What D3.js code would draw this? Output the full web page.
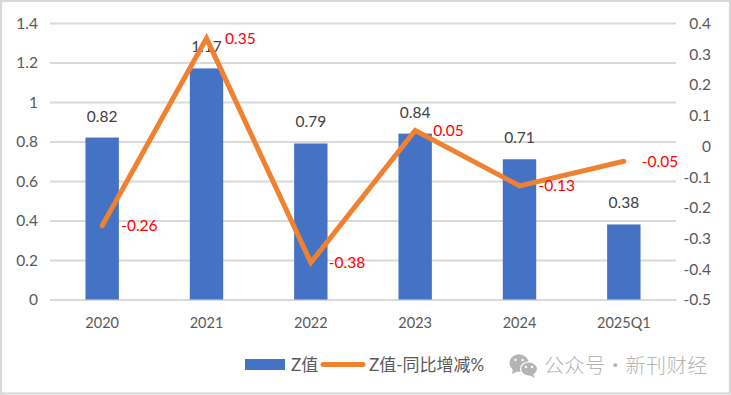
<!DOCTYPE html>
<html><head><meta charset="utf-8">
<script src="https://cdn.jsdelivr.net/npm/d3@7/dist/d3.min.js"></script>
<style>html,body{margin:0;padding:0;background:#fff}svg{display:block}text{font-family:Lato,"Noto Sans CJK SC",sans-serif}</style>
</head><body><svg id="c" width="731" height="395"></svg>
<script>
const categories=["2020","2021","2022","2023","2024","2025Q1"];
const zValues=[0.82,1.17,0.79,0.84,0.71,0.38];
const yoyValues=[-0.26,0.35,-0.38,0.05,-0.13,-0.05];
const leftTicks=[0,0.2,0.4,0.6,0.8,1,1.2,1.4];
const rightTicks=[-0.5,-0.4,-0.3,-0.2,-0.1,0,0.1,0.2,0.3,0.4];
const legendLabels=["Z值","Z值-同比增减%"];
const watermark="公众号 · 新刊财经";
const labelDx=[19,18.5,18,18,19,18];
const W=731,H=395,svg=d3.select("#c");
const m={l:50,r:676,t:23,b:299.5};
const fmtTick=d=>String(d);
const fmt2=d=>d.toFixed(2);
const x=d3.scaleBand().domain(categories).range([m.l,m.r]).paddingInner(0.68).paddingOuter(0.34);
const yL=d3.scaleLinear().domain([0,1.4]).range([m.b,m.t]);
const yR=d3.scaleLinear().domain([-0.5,0.4]).range([m.b,m.t]);
const cx=d=>x(d)+x.bandwidth()/2;
svg.append("rect").attr("x",1).attr("y",1).attr("width",W-2).attr("height",H-2.5).attr("fill","#fff").attr("stroke","#d9d9d9").attr("stroke-width",2.2);
const gl=svg.append("g").attr("transform",`translate(${m.l},0)`).call(d3.axisLeft(yL).tickValues(leftTicks).tickSize(-(m.r-m.l)).tickFormat(fmtTick));
gl.select(".domain").remove();
gl.selectAll("line").attr("stroke","#d9d9d9").attr("stroke-width",2);
gl.selectAll("text").attr("x",-12).attr("dy","0.35em").attr("fill","#595959").style("font-size","15.5px");
const gr=svg.append("g").attr("transform",`translate(${m.r},0)`).call(d3.axisRight(yR).tickValues(rightTicks).tickSize(0).tickFormat(fmtTick));
gr.select(".domain").remove();
gr.selectAll("text").attr("x",35).attr("text-anchor","end").attr("dy","0.35em").attr("fill","#595959").style("font-size","15.5px");
const gx=svg.append("g").attr("transform",`translate(0,${m.b})`).call(d3.axisBottom(x).tickSize(0));
gx.select(".domain").attr("stroke","#d9d9d9").attr("stroke-width",2);
gx.selectAll("text").attr("y",18).attr("fill","#595959").style("font-size","14.5px");
svg.append("g").selectAll("rect").data(categories).join("rect")
 .attr("x",d=>x(d)).attr("width",x.bandwidth())
 .attr("y",(d,i)=>yL(zValues[i])).attr("height",(d,i)=>m.b-yL(zValues[i])).attr("fill","#4472c4");
svg.append("g").selectAll("text").data(categories).join("text")
 .attr("x",cx).attr("y",(d,i)=>yL(zValues[i])-16).attr("text-anchor","middle").attr("fill","#404040").style("font-size","15.5px")
 .text((d,i)=>fmt2(zValues[i]));
const line=d3.line().x(d=>cx(d)).y((d,i)=>yR(yoyValues[i]));
svg.append("path").datum(categories).attr("d",line).attr("fill","none").attr("stroke","#f08130").attr("stroke-width",5).attr("stroke-linejoin","miter").attr("stroke-linecap","round");
svg.append("g").selectAll("text").data(categories).join("text")
 .attr("x",(d,i)=>cx(d)+labelDx[i]).attr("y",(d,i)=>yR(yoyValues[i])+5.5).attr("fill","#ff0000").style("font-size","15.5px")
 .text((d,i)=>fmt2(yoyValues[i]));
const lg=svg.append("g");
lg.append("rect").attr("x",245).attr("y",359).attr("width",40).attr("height",11).attr("fill","#4472c4");
lg.append("text").attr("x",291).attr("y",371).attr("fill","#595959").style("font-size","17px").text(legendLabels[0]);
lg.append("line").attr("x1",323).attr("x2",363).attr("y1",364.5).attr("y2",364.5).attr("stroke","#f08130").attr("stroke-width",5).attr("stroke-linecap","round");
lg.append("text").attr("x",369).attr("y",371).attr("fill","#595959").style("font-size","17px").text(legendLabels[1]);
const wm=svg.append("g").attr("fill","#b4b4b4");
wm.append("ellipse").attr("cx",519).attr("cy",363).attr("rx",9.5).attr("ry",8.7);
wm.append("path").attr("d","M513 369 L512 374 L518 371 Z");
wm.append("ellipse").attr("cx",529).attr("cy",369).attr("rx",8.5).attr("ry",7).attr("stroke","#fff").attr("stroke-width",1.2);
wm.append("path").attr("d","M533 374 L535 378 L529 375 Z");
[[515.5,360],[522.5,360],[526,367],[532,367]].forEach(p=>wm.append("circle").attr("cx",p[0]).attr("cy",p[1]).attr("r",1.2).attr("fill","#fff"));
wm.append("text").attr("x",544).attr("y",373).style("font-size","20px").style("letter-spacing","0.6px").style("word-spacing","-5.5px").style("font-weight","300").style("font-family",'"Noto Sans CJK SC",sans-serif').text(watermark);
</script></body></html>
